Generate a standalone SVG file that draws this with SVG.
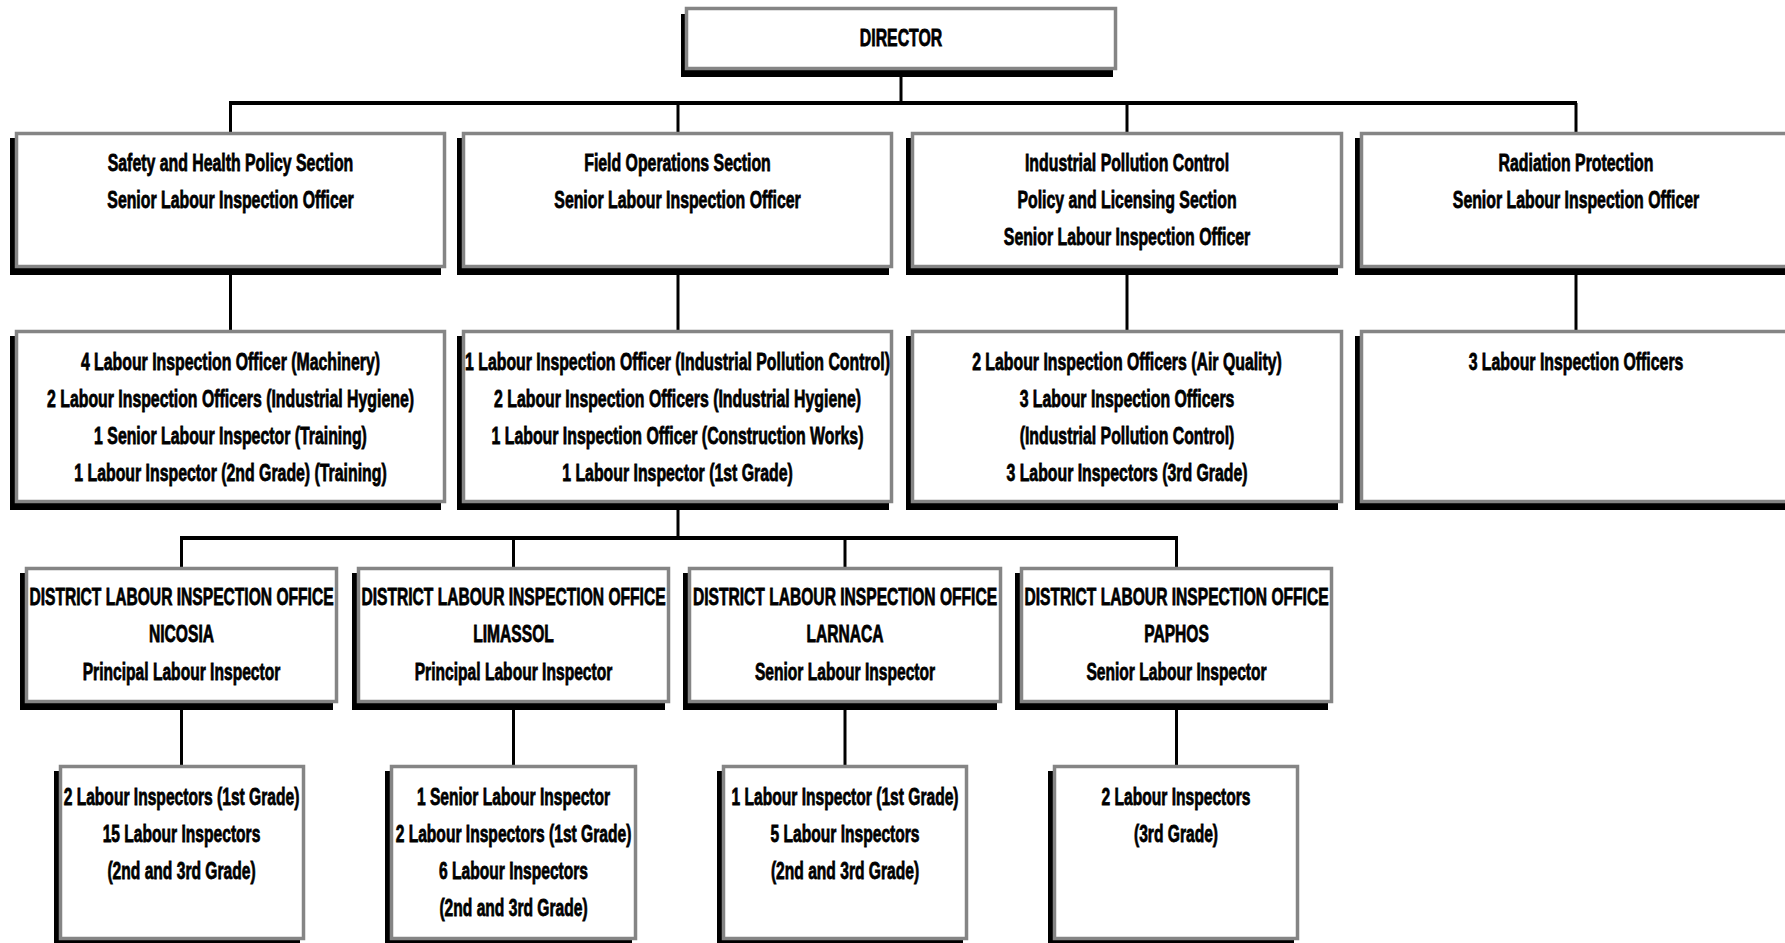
<svg xmlns="http://www.w3.org/2000/svg" width="1785" height="943" viewBox="0 0 1785 943">
<style>
.sh{fill:#000}
.bx{fill:#fff;stroke:#858585;stroke-width:3.5}
.t{font-family:"Liberation Sans",Arial,sans-serif;font-weight:bold;font-size:24px;fill:#000;stroke:#000;stroke-width:0.8;text-anchor:middle}
.c{stroke:#000;stroke-width:3;fill:none}
.bus{stroke:#000;stroke-width:4;fill:none}
</style>
<g id="connectors">
<line class="c" x1="901" y1="70" x2="901" y2="103"/>
<line class="bus" x1="229" y1="103" x2="1577" y2="103"/>
<line class="c" x1="230.5" y1="103" x2="230.5" y2="132"/>
<line class="c" x1="678" y1="103" x2="678" y2="132"/>
<line class="c" x1="1127" y1="103" x2="1127" y2="132"/>
<line class="c" x1="1576" y1="103" x2="1576" y2="132"/>
<line class="c" x1="230.5" y1="268" x2="230.5" y2="330"/>
<line class="c" x1="678" y1="268" x2="678" y2="330"/>
<line class="c" x1="1127" y1="268" x2="1127" y2="330"/>
<line class="c" x1="1576" y1="268" x2="1576" y2="330"/>
<line class="c" x1="678" y1="503" x2="678" y2="538"/>
<line class="bus" x1="180" y1="538" x2="1178" y2="538"/>
<line class="c" x1="181.5" y1="538" x2="181.5" y2="567"/>
<line class="c" x1="513.5" y1="538" x2="513.5" y2="567"/>
<line class="c" x1="845" y1="538" x2="845" y2="567"/>
<line class="c" x1="1176.5" y1="538" x2="1176.5" y2="567"/>
<line class="c" x1="181.5" y1="703" x2="181.5" y2="765"/>
<line class="c" x1="513.5" y1="703" x2="513.5" y2="765"/>
<line class="c" x1="845" y1="703" x2="845" y2="765"/>
<line class="c" x1="1176.5" y1="703" x2="1176.5" y2="765"/>
</g>
<g id="director">
<rect class="sh" x="681" y="14" width="432" height="63"/>
<rect class="bx" x="686.5" y="8.5" width="429" height="60"/>
<g transform="translate(901,0) scale(0.66,1)"><text class="t" x="0" y="46">DIRECTOR</text></g>
</g>
<g id="safety-health">
<rect class="sh" x="10" y="138" width="431" height="137"/>
<rect class="bx" x="16.5" y="133.5" width="428" height="133"/>
<g transform="translate(230.5,0) scale(0.66,1)"><text class="t" x="0" y="171">Safety and Health Policy Section</text><text class="t" x="0" y="208">Senior Labour Inspection Officer</text></g>
</g>
<g id="field-operations">
<rect class="sh" x="457" y="138" width="432" height="137"/>
<rect class="bx" x="463.5" y="133.5" width="428" height="133"/>
<g transform="translate(677.5,0) scale(0.66,1)"><text class="t" x="0" y="171">Field Operations Section</text><text class="t" x="0" y="208">Senior Labour Inspection Officer</text></g>
</g>
<g id="industrial-pollution">
<rect class="sh" x="906" y="138" width="432" height="137"/>
<rect class="bx" x="912.5" y="133.5" width="429" height="133"/>
<g transform="translate(1127,0) scale(0.66,1)"><text class="t" x="0" y="171">Industrial Pollution Control</text><text class="t" x="0" y="208">Policy and Licensing Section</text><text class="t" x="0" y="245">Senior Labour Inspection Officer</text></g>
</g>
<g id="radiation-protection">
<rect class="sh" x="1355" y="138" width="432" height="137"/>
<rect class="bx" x="1361.5" y="133.5" width="429" height="133"/>
<g transform="translate(1576,0) scale(0.66,1)"><text class="t" x="0" y="171">Radiation Protection</text><text class="t" x="0" y="208">Senior Labour Inspection Officer</text></g>
</g>
<g id="safety-health-staff">
<rect class="sh" x="10" y="336" width="431" height="174"/>
<rect class="bx" x="16.5" y="331.5" width="428" height="170"/>
<g transform="translate(230.5,0) scale(0.66,1)"><text class="t" x="0" y="370">4 Labour Inspection Officer (Machinery)</text><text class="t" x="0" y="407">2 Labour Inspection Officers (Industrial Hygiene)</text><text class="t" x="0" y="444">1 Senior Labour Inspector (Training)</text><text class="t" x="0" y="481">1 Labour Inspector (2nd Grade) (Training)</text></g>
</g>
<g id="field-operations-staff">
<rect class="sh" x="457" y="336" width="432" height="174"/>
<rect class="bx" x="463.5" y="331.5" width="428" height="170"/>
<g transform="translate(677.5,0) scale(0.66,1)"><text class="t" x="0" y="370">1 Labour Inspection Officer (Industrial Pollution Control)</text><text class="t" x="0" y="407">2 Labour Inspection Officers (Industrial Hygiene)</text><text class="t" x="0" y="444">1 Labour Inspection Officer (Construction Works)</text><text class="t" x="0" y="481">1 Labour Inspector (1st Grade)</text></g>
</g>
<g id="industrial-pollution-staff">
<rect class="sh" x="906" y="336" width="432" height="174"/>
<rect class="bx" x="912.5" y="331.5" width="429" height="170"/>
<g transform="translate(1127,0) scale(0.66,1)"><text class="t" x="0" y="370">2 Labour Inspection Officers (Air Quality)</text><text class="t" x="0" y="407">3 Labour Inspection Officers</text><text class="t" x="0" y="444">(Industrial Pollution Control)</text><text class="t" x="0" y="481">3 Labour Inspectors (3rd Grade)</text></g>
</g>
<g id="radiation-protection-staff">
<rect class="sh" x="1355" y="336" width="432" height="174"/>
<rect class="bx" x="1361.5" y="331.5" width="429" height="170"/>
<g transform="translate(1576,0) scale(0.66,1)"><text class="t" x="0" y="370">3 Labour Inspection Officers</text></g>
</g>
<g id="nicosia">
<rect class="sh" x="20" y="573" width="313" height="137"/>
<rect class="bx" x="26.5" y="568.5" width="310" height="133"/>
<g transform="translate(181.5,0) scale(0.65,1)"><text class="t" x="0" y="605">DISTRICT LABOUR INSPECTION OFFICE</text><text class="t" x="0" y="642">NICOSIA</text><text class="t" x="0" y="680">Principal Labour Inspector</text></g>
</g>
<g id="limassol">
<rect class="sh" x="352" y="573" width="313" height="137"/>
<rect class="bx" x="358.5" y="568.5" width="310" height="133"/>
<g transform="translate(513.5,0) scale(0.65,1)"><text class="t" x="0" y="605">DISTRICT LABOUR INSPECTION OFFICE</text><text class="t" x="0" y="642">LIMASSOL</text><text class="t" x="0" y="680">Principal Labour Inspector</text></g>
</g>
<g id="larnaca">
<rect class="sh" x="683" y="573" width="314" height="137"/>
<rect class="bx" x="689.5" y="568.5" width="311" height="133"/>
<g transform="translate(845,0) scale(0.65,1)"><text class="t" x="0" y="605">DISTRICT LABOUR INSPECTION OFFICE</text><text class="t" x="0" y="642">LARNACA</text><text class="t" x="0" y="680">Senior Labour Inspector</text></g>
</g>
<g id="paphos">
<rect class="sh" x="1015" y="573" width="313" height="137"/>
<rect class="bx" x="1021.5" y="568.5" width="310" height="133"/>
<g transform="translate(1176.5,0) scale(0.65,1)"><text class="t" x="0" y="605">DISTRICT LABOUR INSPECTION OFFICE</text><text class="t" x="0" y="642">PAPHOS</text><text class="t" x="0" y="680">Senior Labour Inspector</text></g>
</g>
<g id="nicosia-staff">
<rect class="sh" x="54" y="771" width="246" height="176"/>
<rect class="bx" x="60.5" y="766.5" width="243" height="172"/>
<g transform="translate(181.5,0) scale(0.65,1)"><text class="t" x="0" y="805">2 Labour Inspectors (1st Grade)</text><text class="t" x="0" y="842">15 Labour Inspectors</text><text class="t" x="0" y="879">(2nd and 3rd Grade)</text></g>
</g>
<g id="limassol-staff">
<rect class="sh" x="385" y="771" width="247" height="176"/>
<rect class="bx" x="391.5" y="766.5" width="244" height="172"/>
<g transform="translate(513.5,0) scale(0.65,1)"><text class="t" x="0" y="805">1 Senior Labour Inspector</text><text class="t" x="0" y="842">2 Labour Inspectors (1st Grade)</text><text class="t" x="0" y="879">6 Labour Inspectors</text><text class="t" x="0" y="916">(2nd and 3rd Grade)</text></g>
</g>
<g id="larnaca-staff">
<rect class="sh" x="717" y="771" width="246" height="176"/>
<rect class="bx" x="723.5" y="766.5" width="243" height="172"/>
<g transform="translate(845,0) scale(0.65,1)"><text class="t" x="0" y="805">1 Labour Inspector (1st Grade)</text><text class="t" x="0" y="842">5 Labour Inspectors</text><text class="t" x="0" y="879">(2nd and 3rd Grade)</text></g>
</g>
<g id="paphos-staff">
<rect class="sh" x="1048" y="771" width="246" height="176"/>
<rect class="bx" x="1054.5" y="766.5" width="243" height="172"/>
<g transform="translate(1176,0) scale(0.65,1)"><text class="t" x="0" y="805">2 Labour Inspectors</text><text class="t" x="0" y="842">(3rd Grade)</text></g>
</g>
</svg>
